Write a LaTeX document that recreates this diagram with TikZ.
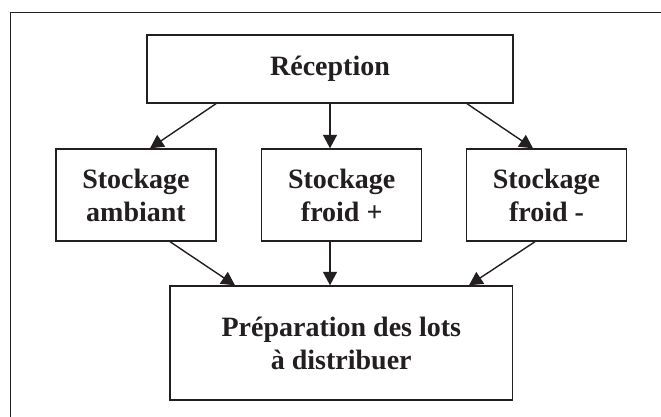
\documentclass[tikz,border=0pt]{standalone}
\usepackage{fontspec}
\setmainfont{Liberation Serif}
\usetikzlibrary{arrows.meta}
\definecolor{ink}{HTML}{231F20}
\begin{document}
\begin{tikzpicture}[x=1pt,y=-1pt,
  boxstyle/.style={draw=ink, line width=1.4pt, inner sep=0pt, align=center,
    text=ink, font=\fontsize{28}{33}\selectfont\bfseries},
  arr/.style={draw=ink, line width=1.4pt, -{Triangle[length=13.5pt,width=14pt]}},
  framestyle/.style={draw=ink, line width=1.4pt}]
\useasboundingbox (0,0) rectangle (661,417);
\fill[white] (0,0) rectangle (661,417);
% outer frame (left and top sides visible)
\coordinate (fbl) at (10.7,417);
\coordinate (ftl) at (10.7,12.7);
\coordinate (ftr) at (661,12.7);
\draw[framestyle] (fbl) -- (ftl) -- (ftr);
% nodes
\node[boxstyle, minimum width=365.7pt, minimum height=68pt] (rec) at (330,69) {Réception};
\node[boxstyle, minimum width=160pt, minimum height=92pt] (amb) at (136,195) {Stockage\\ambiant};
\node[boxstyle, minimum width=160pt, minimum height=92pt] (fp) at (341.7,195) {Stockage\\froid +};
\node[boxstyle, minimum width=159.5pt, minimum height=92pt] (fm) at (546.5,195) {Stockage\\froid -};
\node[boxstyle, minimum width=342.7pt, minimum height=114pt] (prep) at (341.3,343) {Préparation des lots\\à distribuer};
% connectors
\draw[arr] ([xshift=-114pt]rec.south) -- ([xshift=14pt]amb.north);
\draw[arr] (rec.south) -- (rec.south |- fp.north);
\draw[arr] ([xshift=137pt]rec.south) -- ([xshift=-13.5pt]fm.north);
\draw[arr] ([xshift=34pt]amb.south) -- ([xshift=-106.3pt]prep.north);
\draw[arr] (rec.south |- fp.south) -- (rec.south |- prep.north);
\draw[arr] ([xshift=-11.5pt]fm.south) -- ([xshift=127.7pt]prep.north);
\end{tikzpicture}
\end{document}
